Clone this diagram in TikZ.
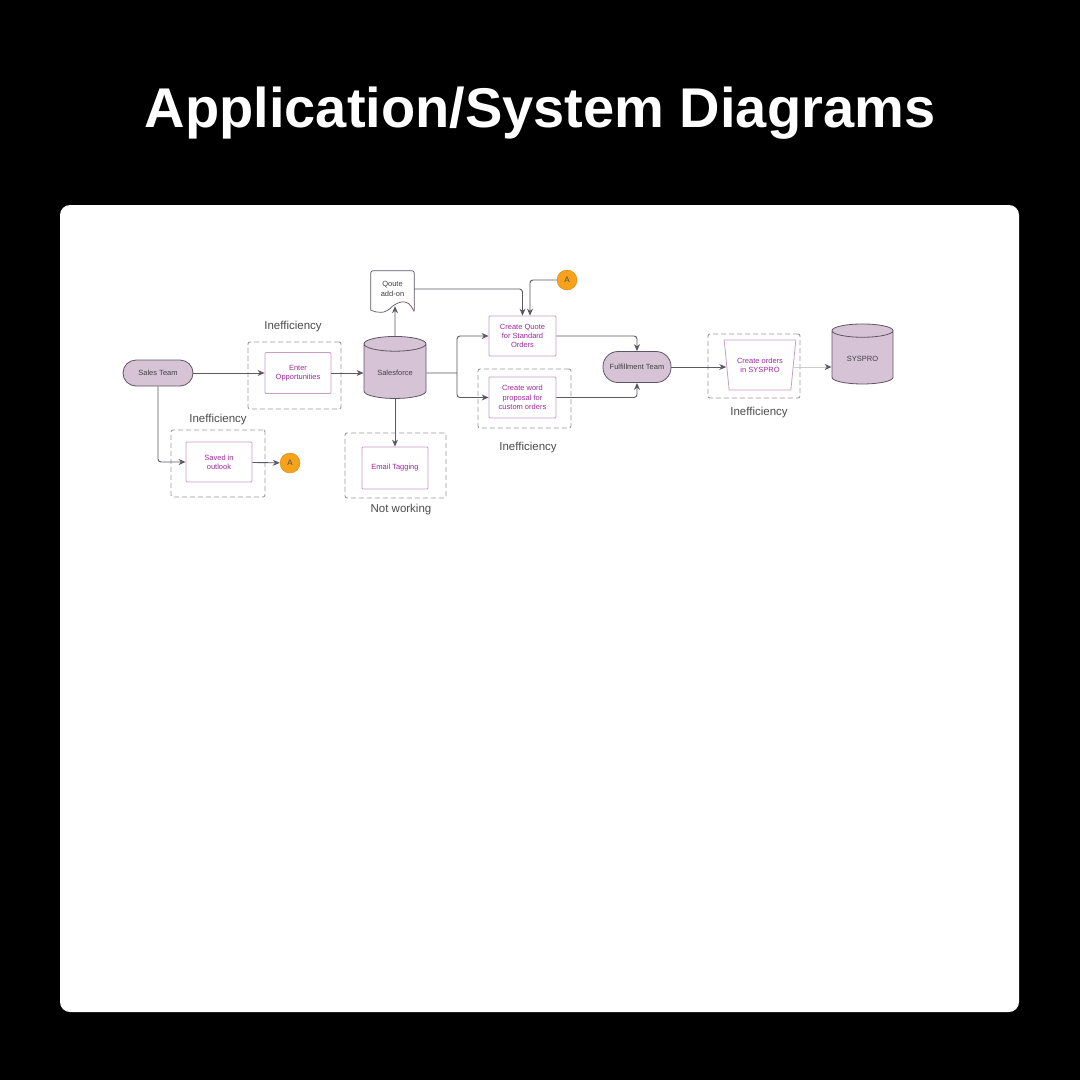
\documentclass[tikz,border=0pt]{standalone}
\usepackage{fontspec}
\setmainfont{Liberation Sans}
\usetikzlibrary{positioning,arrows.meta,calc,shapes.geometric}
\definecolor{dbfill}{HTML}{D6C4D6}
\definecolor{dbline}{HTML}{5E5566}
\definecolor{stepline}{HTML}{C99DC9}
\definecolor{steptext}{HTML}{9C2A9C}
\definecolor{flowline}{HTML}{5A5A64}
\definecolor{zoneline}{HTML}{9A9A9A}
\definecolor{marker}{HTML}{F7A21B}

\begin{document}
\begin{tikzpicture}[x=1pt,y=-1pt,>={Stealth[length=7pt,width=6pt]},
  team/.style={draw=dbline,fill=dbfill,rounded corners=13pt,line width=0.8pt,minimum height=26pt,font=\fontsize{7.5}{8}\selectfont,text=black!75},
  task/.style={draw=stepline,fill=white,line width=0.8pt,rounded corners=1pt,minimum width=66pt,minimum height=41pt,align=center,font=\fontsize{7.5}{9.3}\selectfont,text=steptext},
  zone/.style={draw=zoneline,dash pattern=on 5pt off 3pt,line width=0.9pt,rounded corners=2pt},
  db/.style={cylinder,shape border rotate=90,aspect=0.35,draw=dbline,fill=dbfill,line width=0.8pt,font=\fontsize{7.5}{8}\selectfont,text=black!75},
  tag/.style={font=\fontsize{11.5}{13}\selectfont,text=black!70},
  marker/.style={circle,draw=marker!85!black,fill=marker,minimum size=20pt,inner sep=0pt,font=\fontsize{8}{8}\selectfont,text=black!70},
  flow/.style={->,draw=flowline,line width=0.9pt,rounded corners=3pt}]
\useasboundingbox (0,0) rectangle (1080,1080);
\fill[black] (0,0) rectangle (1080,1080);
\fill[white,rounded corners=10pt] (60,205) rectangle (1019,1012);
\node[text=white,font=\bfseries\fontsize{56}{60}\selectfont,anchor=base] (title) at (540,127) {Application/System Diagrams};

\node[zone,minimum width=93pt,minimum height=67pt] (z1) at (294.5,375.5) {};
\node[zone,minimum width=94pt,minimum height=67pt] (z4) at (218,463.5) {};
\node[zone,minimum width=101pt,minimum height=65pt] (z5) at (395.5,465.5) {};
\node[zone,minimum width=93pt,minimum height=59pt] (z2) at (524.5,398.5) {};
\node[zone,minimum width=92pt,minimum height=64pt] (z3) at (754,366) {};
\node[tag] (t1) at (293,327) {Inefficiency};
\node[tag] (t4) at (218,420) {Inefficiency};
\node[tag] (t2) at (528,448) {Inefficiency};
\node[tag] (t3) at (759,413) {Inefficiency};
\node[tag] (t5) at (401,510) {Not working};

\node[team,minimum width=70pt] (sales) at (158,373) {Sales Team};
\node[task] (enter) at (298,373) {Enter\\Opportunities};
\node[task,minimum height=40pt] (saved) at (219,462) {Saved in\\outlook};
\node[task,minimum height=42pt] (email) at (395,468) {Email Tagging};
\node[db,minimum width=62pt,minimum height=62pt] (sf) at (395,373) {Salesforce};
\node[task,minimum width=67pt,minimum height=40pt] (quote) at (522.5,336) {Create Quote\\for Standard\\Orders};
\node[task,minimum width=67pt,minimum height=41pt] (word) at (522.5,397.5) {Create word\\proposal for\\custom orders};
\node[team,minimum width=68pt,minimum height=31pt,rounded corners=15pt] (ful) at (637,367) {Fulfillment Team};
\node[trapezium,shape border rotate=180,trapezium stretches=true,trapezium left angle=76,trapezium right angle=76,minimum width=72pt,minimum height=50pt,inner sep=0pt,draw=stepline,fill=white,line width=0.8pt,align=center,font=\fontsize{7.5}{9.3}\selectfont,text=steptext] (trap) at (760,365) {Create orders\\in SYSPRO};
\node[db,minimum width=61pt,minimum height=60pt] (sys) at (862.5,359) {SYSPRO};
\node[marker] (a1) at (290,463) {A};
\node[marker] (a2) at (567,280) {A};

\node[minimum width=43pt,minimum height=36pt,inner sep=0pt] (q) at (392.5,289) {};
\draw[draw=dbline,fill=white,line width=0.7pt,rounded corners=2pt] ($(q.south west)+(0,3)$) -- (q.north west) -- (q.north east) -- ($(q.south east)+(0,5)$) [sharp corners] .. controls ($(q.south east)+(-6,-9)$) and ($(q.south)+(7,-6)$) .. ($(q.south)+(0,-1)$) .. controls ($(q.south)+(-7,7)$) and ($(q.south west)+(7,6)$) .. ($(q.south west)+(0,3)$);
\node[align=center,font=\fontsize{7.5}{9.3}\selectfont,text=black!75] (qtext) at (q) {Qoute\\add-on};
\coordinate (qb) at ($(q.south)+(2.5,-1)$);
\coordinate (split) at (457,373);

\draw[flow] (sales) -- (enter);
\draw[flow] (enter) -- (sf);
\draw[flow] (sales.south) |- (saved.west);
\draw[flow] (saved) -- (a1);
\draw[flow] (sf) -- (email);
\draw[flow] (sf) -- (qb);
\draw[flow,-] (sf.east) -- (split);
\draw[flow] (split) |- (quote.west);
\draw[flow] (split) |- (word.west);
\draw[flow] (q.east) -| (quote.north);
\draw[flow] (a2.west) -| ([xshift=7.5pt]quote.north);
\draw[flow] (quote.east) -| (ful.north);
\draw[flow] (word.east) -| (ful.south);
\draw[flow] (ful.east) -- (ful.east -| trap.west);
\draw[flow,draw=gray!40,-{Stealth[length=7pt,width=6pt,color=flowline]}] (ful.east -| trap.east) -- (ful.east -| sys.west);
\end{tikzpicture}
\end{document}
